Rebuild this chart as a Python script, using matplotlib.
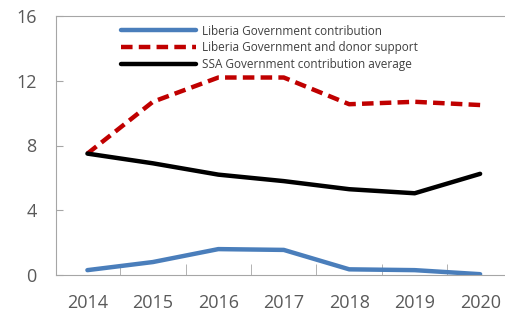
import matplotlib
matplotlib.use("Agg")
import matplotlib.pyplot as plt
import numpy as np

plt.rcParams['font.family'] = ['Open Sans', 'DejaVu Sans']

years = ["2014", "2015", "2016", "2017", "2018", "2019", "2020"]
liberia_gov = [0.3, 0.8, 1.6, 1.55, 0.35, 0.3, 0.05]
liberia_donor = [7.5, 10.7, 12.2, 12.2, 10.55, 10.7, 10.5]
ssa_avg = [7.5, 6.9, 6.2, 5.8, 5.3, 5.05, 6.25]
labels = ["Liberia Government contribution",
          "Liberia Government and donor support",
          "SSA Government contribution average"]

fig = plt.figure(figsize=(5.05, 3.2), dpi=100)
ax = fig.add_axes([56 / 505, 45 / 320, 449 / 505, 259 / 320])

x = np.arange(len(years))
ax.plot(x, liberia_gov, color="#4A7EBB", lw=3.2, label=labels[0], solid_capstyle="round")
ax.plot(x, liberia_donor, color="#C00000", lw=3.2, ls=(0, (2.6, 1.4)), label=labels[1])
ax.plot(x, ssa_avg, color="black", lw=3.2, label=labels[2], solid_capstyle="round")

ax.set_ylim(0, 16)
ax.set_yticks([0, 4, 8, 12, 16])
ax.set_xlim(-0.48, 6.38)
ax.set_xticks(x)
ax.set_xticklabels(years)
ax.set_xticks(x[:-1] + 0.5, minor=True)
ax.tick_params(axis="x", which="major", length=0, pad=14, labelsize=13, labelcolor="#595959")
ax.tick_params(axis="x", which="minor", direction="in", length=8, color="#A6A6A6")
ax.tick_params(axis="y", direction="in", length=5, color="#A6A6A6", pad=14,
               labelsize=13, labelcolor="#595959")
for s in ["left", "bottom", "top"]:
    ax.spines[s].set_color("#A6A6A6")
ax.spines["right"].set_visible(False)

leg = ax.legend(loc="upper left", bbox_to_anchor=(0.135, 0.985), frameon=False,
                fontsize=8.5, handlelength=6.3, handletextpad=0.5,
                labelspacing=0.3, borderaxespad=0)
for t in leg.get_texts():
    t.set_color("#404040")

fig.savefig("out.png", dpi=100)
